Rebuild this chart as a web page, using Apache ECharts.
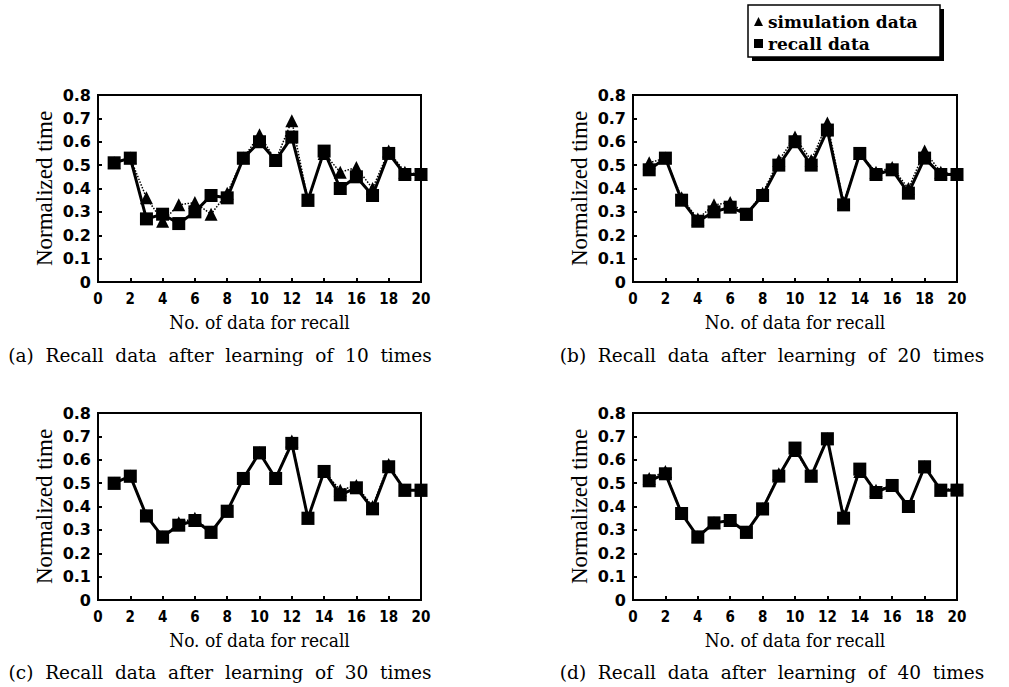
<!DOCTYPE html>
<html>
<head>
<meta charset="utf-8">
<script src="https://cdn.jsdelivr.net/npm/echarts@6/dist/echarts.min.js"></script>
<style>
  html, body { margin: 0; padding: 0; background: #fff; }
  #chart { width: 1009px; height: 687px; }
</style>
</head>
<body>
<div id="chart"></div>
<script>
// x positions (No. of data for recall)
const dataNo = [1, 2, 3, 4, 5, 6, 7, 8, 9, 10, 11, 12, 13, 14, 15, 16, 17, 18, 19, 20];

// (a) 10 times
const simA = [0.51, 0.53, 0.36, 0.26, 0.33, 0.34, 0.29, 0.38, 0.53, 0.63, 0.52, 0.69, 0.35, 0.55, 0.47, 0.49, 0.40, 0.56, 0.47, 0.46];
const recA = [0.51, 0.53, 0.27, 0.29, 0.25, 0.30, 0.37, 0.36, 0.53, 0.60, 0.52, 0.62, 0.35, 0.56, 0.40, 0.45, 0.37, 0.55, 0.46, 0.46];
// (b) 20 times
const simB = [0.51, 0.53, 0.36, 0.27, 0.33, 0.34, 0.29, 0.38, 0.52, 0.62, 0.52, 0.68, 0.34, 0.55, 0.47, 0.49, 0.40, 0.56, 0.47, 0.46];
const recB = [0.48, 0.53, 0.35, 0.26, 0.30, 0.32, 0.29, 0.37, 0.50, 0.60, 0.50, 0.65, 0.33, 0.55, 0.46, 0.48, 0.38, 0.53, 0.46, 0.46];
// (c) 30 times
const simC = [0.50, 0.53, 0.36, 0.27, 0.33, 0.35, 0.29, 0.38, 0.52, 0.63, 0.52, 0.68, 0.35, 0.55, 0.47, 0.49, 0.40, 0.58, 0.47, 0.47];
const recC = [0.50, 0.53, 0.36, 0.27, 0.32, 0.34, 0.29, 0.38, 0.52, 0.63, 0.52, 0.67, 0.35, 0.55, 0.45, 0.48, 0.39, 0.57, 0.47, 0.47];
// (d) 40 times
const simD = [0.52, 0.55, 0.37, 0.27, 0.33, 0.34, 0.29, 0.39, 0.54, 0.64, 0.53, 0.69, 0.36, 0.55, 0.47, 0.49, 0.40, 0.57, 0.47, 0.48];
const recD = [0.51, 0.54, 0.37, 0.27, 0.33, 0.34, 0.29, 0.39, 0.53, 0.65, 0.53, 0.69, 0.35, 0.56, 0.46, 0.49, 0.40, 0.57, 0.47, 0.47];

const captions = [
  "(a)  Recall  data  after  learning  of  10  times",
  "(b)  Recall  data  after  learning  of  20  times",
  "(c)  Recall  data  after  learning  of  30  times",
  "(d)  Recall  data  after  learning  of  40  times",
];
const simName = "simulation data";
const recName = "recall data";

let myChart = echarts.init(document.getElementById("chart"), null, { renderer: "svg" });

// panel boxes [left, top, width, height]
const boxes = [
  [98, 95, 323, 187],
  [633, 95, 324, 187],
  [98, 413, 323, 187],
  [633, 413, 324, 187],
];
const captionPos = [
  [220, 355],
  [772, 355],
  [220, 672],
  [772, 672],
];
const panels = [
  [simA, recA],
  [simB, recB],
  [simC, recC],
  [simD, recD],
];

const toPairs = (vals) => dataNo.map((x, i) => [x, vals[i]]);

let grids = [];
let xAxes = [];
let yAxes = [];
let series = [];
boxes.forEach((b, i) => {
  grids.push({
    left: b[0],
    top: b[1],
    width: b[2],
    height: b[3],
    show: true,
    borderColor: "#000",
    borderWidth: 2,
  });
  xAxes.push({
    gridIndex: i,
    type: "value",
    min: 0,
    max: 20,
    interval: 2,
    name: "No. of data for recall",
    nameLocation: "middle",
    nameGap: 30,
    nameTextStyle: { fontFamily: "DejaVu Serif Condensed, DejaVu Serif, serif", fontSize: 19, color: "#000", verticalAlign: "top" },
    axisLine: { lineStyle: { color: "#000", width: 2 } },
    axisTick: { inside: true, length: 4, lineStyle: { color: "#000", width: 2 } },
    axisLabel: {
      margin: 9,
      color: "#000",
      fontWeight: "bold",
      fontSize: 15,
      fontFamily: "DejaVu Sans Condensed, DejaVu Sans, sans-serif",
    },
    splitLine: { show: false },
  });
  yAxes.push({
    gridIndex: i,
    type: "value",
    min: 0,
    max: 0.8,
    interval: 0.1,
    name: "Normalized time",
    nameLocation: "middle",
    nameGap: 42,
    nameTextStyle: { fontFamily: "Liberation Serif, serif", fontSize: 23, color: "#000" },
    axisLine: { lineStyle: { color: "#000", width: 2 } },
    axisTick: { inside: true, length: 4, lineStyle: { color: "#000", width: 2 } },
    axisLabel: {
      margin: 7,
      color: "#000",
      fontWeight: "bold",
      fontSize: 16,
      fontFamily: "DejaVu Sans, sans-serif",
      formatter: (v) => (v === 0 ? "0" : v.toFixed(1)),
    },
    splitLine: { show: false },
  });
  // simulation: thin dotted line with triangles
  series.push({
    type: "line",
    name: simName,
    xAxisIndex: i,
    yAxisIndex: i,
    data: toPairs(panels[i][0]),
    symbol: "triangle",
    symbolSize: 13,
    itemStyle: { color: "#000" },
    lineStyle: { color: "#000", width: 1.5, type: "dotted" },
    z: 2,
    animation: false,
  });
  // recall: thick solid line with squares
  series.push({
    type: "line",
    name: recName,
    xAxisIndex: i,
    yAxisIndex: i,
    data: toPairs(panels[i][1]),
    symbol: "rect",
    symbolSize: 13,
    itemStyle: { color: "#000" },
    lineStyle: { color: "#000", width: 3 },
    z: 3,
    animation: false,
  });
});

let graphics = [
  // legend box shadow + frame
  { type: "rect", shape: { x: 752, y: 9, width: 192, height: 52 }, style: { fill: "#000" }, z: 1 },
  { type: "rect", shape: { x: 748, y: 5, width: 192, height: 52 }, style: { fill: "#fff", stroke: "#000", lineWidth: 1.5 }, z: 2 },
];
captions.forEach((c, i) => {
  graphics.push({
    type: "text",
    x: captionPos[i][0],
    y: captionPos[i][1],
    z: 3,
    style: {
      text: c,
      textAlign: "center",
      textVerticalAlign: "middle",
      fontFamily: "DejaVu Serif, serif",
      fontSize: 18.5,
      fill: "#000",
    },
  });
});

let option = {
  backgroundColor: "#fff",
  grid: grids,
  xAxis: xAxes,
  yAxis: yAxes,
  legend: {
    orient: "vertical",
    left: 749,
    top: 8,
    itemGap: 5,
    itemWidth: 9,
    itemHeight: 9,
    z: 10,
    textStyle: { fontFamily: "DejaVu Serif, serif", fontWeight: "bold", fontSize: 17, color: "#000" },
    data: [
      { name: simName, icon: "triangle" },
      { name: recName, icon: "rect" },
    ],
  },
  graphic: graphics,
  series: series,
};

option && myChart.setOption(option);
</script>
</body>
</html>
